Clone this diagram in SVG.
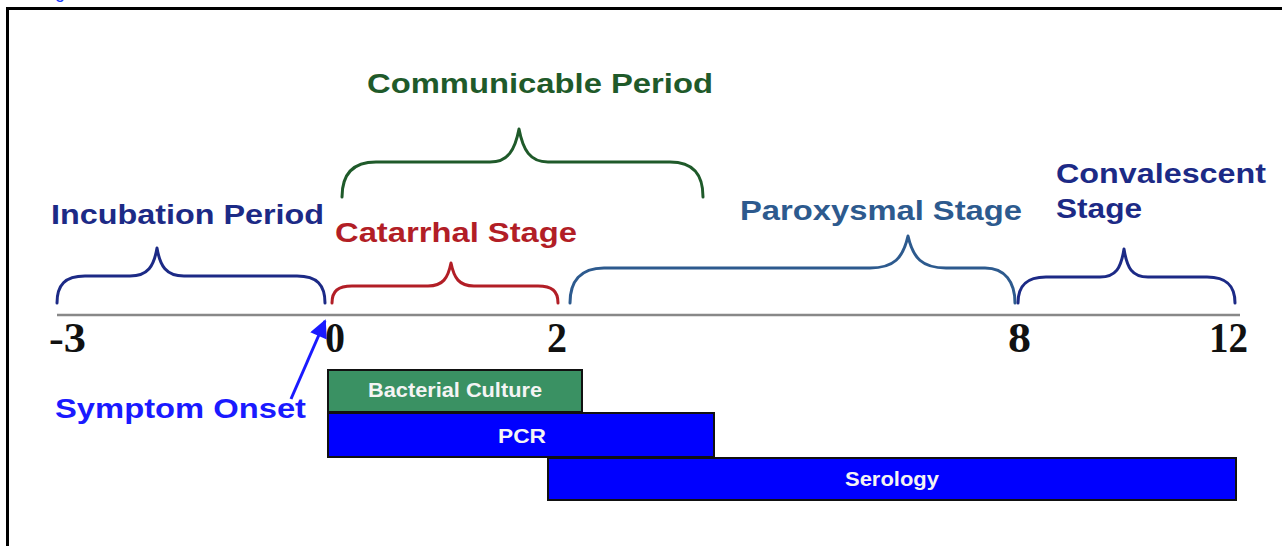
<svg xmlns="http://www.w3.org/2000/svg" width="1282" height="546" viewBox="0 0 1282 546">
<defs>
<style>
.lbl{font-family:"Liberation Sans",Arial,sans-serif;font-weight:bold;font-size:27px}
.tick{font-family:"Liberation Serif","Times New Roman",serif;font-weight:bold;font-size:42px;fill:#111}
.brace{fill:none;stroke-width:3;stroke-linecap:round;stroke-linejoin:round}
.bar{stroke:#111;stroke-width:2}
.bt{font-family:"Liberation Sans",Arial,sans-serif;font-weight:bold;font-size:21px;fill:#f4f4f4;text-anchor:middle}
</style>
<marker id="ah" viewBox="0 0 10 10" refX="9" refY="5" markerWidth="6.5" markerHeight="6" orient="auto" markerUnits="strokeWidth">
<path d="M0,0 L10,5 L0,10 z" fill="#1a1aff"/>
</marker>
</defs>
<rect width="1282" height="546" fill="#fff"/>
<text x="40" y="-2" font-family="Liberation Sans, Arial, sans-serif" font-size="18" fill="#1a3bff">Figure</text>
<rect x="7.5" y="8.5" width="1290" height="560" fill="none" stroke="#000" stroke-width="3"/>

<g id="axis">
<line x1="57" y1="315" x2="1240" y2="315" stroke="#888" stroke-width="2.5"/>
<text class="tick" x="49" y="352" textLength="37" lengthAdjust="spacingAndGlyphs">-3</text>
<text class="tick" x="325" y="352" textLength="20" lengthAdjust="spacingAndGlyphs">0</text>
<text class="tick" x="547" y="352" textLength="20" lengthAdjust="spacingAndGlyphs">2</text>
<text class="tick" x="1008" y="352" textLength="23" lengthAdjust="spacingAndGlyphs">8</text>
<text class="tick" x="1209" y="352" textLength="39" lengthAdjust="spacingAndGlyphs">12</text>
</g>

<g id="incubation">
<path class="brace" stroke="#1c2a86" d="M57,303 C57,285 65,276 85,276 L130,276 C148,276 154,266 157,248 C160,266 166,276 184,276 L297,276 C317,276 325,285 325,303"/>
<text class="lbl" x="51" y="224" fill="#1c2a86" textLength="273" lengthAdjust="spacingAndGlyphs">Incubation Period</text>
</g>

<g id="catarrhal">
<path class="brace" stroke="#b21e26" d="M332,303 C332,291 338,286 352,286 L428,286 C443,286 448,278 451,263 C454,278 459,286 474,286 L538,286 C552,286 558,291 558,303"/>
<text class="lbl" x="335" y="242" fill="#b21e26" textLength="242" lengthAdjust="spacingAndGlyphs">Catarrhal Stage</text>
</g>

<g id="paroxysmal">
<path class="brace" stroke="#2d5a8e" d="M570,303 C570,282 580,268 604,268 L870,268 C894,268 903,258 908,236 C913,258 922,268 946,268 L985,268 C1005,268 1015,282 1015,303"/>
<text class="lbl" x="740" y="220" fill="#2d5a8e" textLength="282" lengthAdjust="spacingAndGlyphs">Paroxysmal Stage</text>
</g>

<g id="convalescent">
<path class="brace" stroke="#1c2a86" d="M1018,303 C1018,286 1026,277 1046,277 L1100,277 C1116,277 1121,268 1124,249 C1127,268 1132,277 1148,277 L1207,277 C1227,277 1235,286 1235,303"/>
<text class="lbl" x="1056" y="183" fill="#1c2a86" textLength="210" lengthAdjust="spacingAndGlyphs">Convalescent</text>
<text class="lbl" x="1056" y="218" fill="#1c2a86" textLength="86" lengthAdjust="spacingAndGlyphs">Stage</text>
</g>

<g id="communicable">
<path class="brace" stroke="#1f5a2a" d="M342,197 C342,175 352,162 376,162 L490,162 C508,162 515,150 519,129 C523,150 530,162 548,162 L670,162 C694,162 703,175 703,197"/>
<text class="lbl" x="367" y="93" fill="#1f5a2a" textLength="346" lengthAdjust="spacingAndGlyphs">Communicable Period</text>
</g>

<g id="symptom-onset">
<text class="lbl" x="55" y="418" fill="#1a1aff" textLength="251" lengthAdjust="spacingAndGlyphs">Symptom Onset</text>
</g>

<g id="connectors">
<line x1="291" y1="399" x2="325" y2="321" stroke="#1a1aff" stroke-width="3" marker-end="url(#ah)"/>
</g>

<g id="bacterial-culture">
<rect class="bar" x="328" y="370" width="254" height="42" fill="#3a9163"/>
<text class="bt" x="455" y="397" textLength="174" lengthAdjust="spacingAndGlyphs">Bacterial Culture</text>
</g>
<g id="pcr">
<rect class="bar" x="328" y="413" width="386" height="44" fill="#0000ff"/>
<text class="bt" x="522" y="443" textLength="48" lengthAdjust="spacingAndGlyphs">PCR</text>
</g>
<g id="serology">
<rect class="bar" x="548" y="458" width="688" height="42" fill="#0000ff"/>
<text class="bt" x="892" y="486" textLength="94" lengthAdjust="spacingAndGlyphs">Serology</text>
</g>
</svg>
